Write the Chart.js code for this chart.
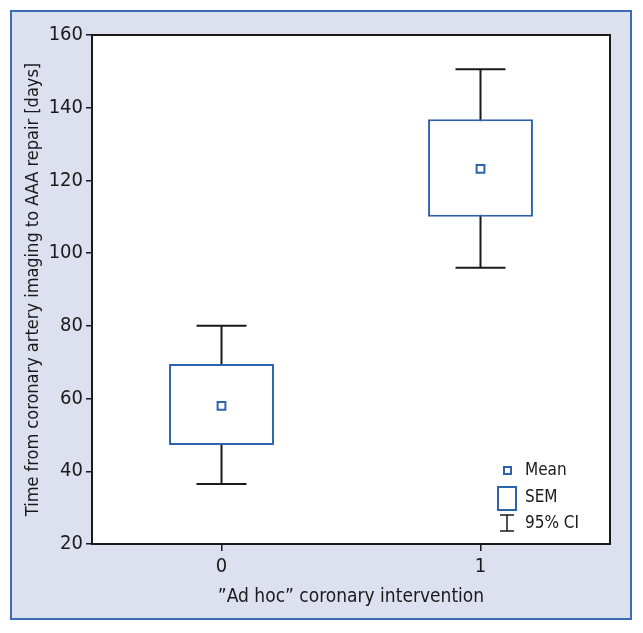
<!DOCTYPE html>
<html>
<head>
<meta charset="utf-8">
<script src="https://cdn.jsdelivr.net/npm/chart.js@4"></script>
<style>
  body { margin: 0; background: #fff; }
  #frame {
    position: absolute; left: 10px; top: 10px;
    width: 618px; height: 606px;
    background: #dde0ef; border: 2px solid #3a6db4;
  }
</style>
</head>
<body>
<div id="frame"><canvas id="my-chart" width="618" height="606"></canvas></div>
<script>
const categories = ["0", "1"];
const means = [58, 123.2];
const semLow = [47.2, 110];
const semHigh = [69.5, 136.8];
const ciLow = [36.5, 96];
const ciHigh = [80, 150.6];
const yTicks = [20, 40, 60, 80, 100, 120, 140, 160];

const blue = "#2b63ad";
const fontFamily = "'DejaVu Sans Condensed', 'Liberation Sans Narrow', sans-serif";

// whiskers (95% CI) drawn under the SEM boxes
const whiskerPlugin = {
  id: "whiskers",
  beforeDatasetsDraw(chart) {
    const { ctx, scales: { x, y } } = chart;
    const capHalf = 25;
    ctx.save();
    ctx.strokeStyle = "#1a1a1a";
    ctx.lineWidth = 2;
    categories.forEach((c, i) => {
      const px = x.getPixelForValue(i);
      const top = y.getPixelForValue(ciHigh[i]);
      const bottom = y.getPixelForValue(ciLow[i]);
      ctx.beginPath();
      ctx.moveTo(px, top);
      ctx.lineTo(px, bottom);
      ctx.moveTo(px - capHalf, top);
      ctx.lineTo(px + capHalf, top);
      ctx.moveTo(px - capHalf, bottom);
      ctx.lineTo(px + capHalf, bottom);
      ctx.stroke();
    });
    ctx.restore();
  },
};

// white plot area, plot frame and legend
const framePlugin = {
  id: "frameLegend",
  beforeDraw(chart) {
    const { ctx, chartArea: a } = chart;
    ctx.save();
    ctx.fillStyle = "#fff";
    ctx.fillRect(a.left, a.top, a.right - a.left, a.bottom - a.top);
    ctx.restore();
  },
  afterDraw(chart) {
    const { ctx, chartArea: a } = chart;
    ctx.save();
    ctx.strokeStyle = "#1a1a1a";
    ctx.lineWidth = 2;
    ctx.strokeRect(a.left, a.top, a.right - a.left, a.bottom - a.top);

    const sx = a.right - 103;
    const tx = a.right - 85;
    ctx.font = "17px " + fontFamily;
    ctx.fillStyle = "#1a1a1a";
    ctx.textBaseline = "middle";
    ctx.fillText("Mean", tx, a.bottom - 73);
    ctx.fillText("SEM", tx, a.bottom - 46);
    ctx.fillText("95% CI", tx, a.bottom - 20);

    ctx.strokeStyle = blue;
    ctx.lineWidth = 2;
    ctx.strokeRect(sx - 3, a.bottom - 77, 7, 7);
    ctx.strokeRect(sx - 9, a.bottom - 57, 18, 23);

    ctx.strokeStyle = "#1a1a1a";
    ctx.lineWidth = 1.5;
    ctx.beginPath();
    ctx.moveTo(sx - 7, a.bottom - 29);
    ctx.lineTo(sx + 7, a.bottom - 29);
    ctx.moveTo(sx, a.bottom - 29);
    ctx.lineTo(sx, a.bottom - 13);
    ctx.moveTo(sx - 7, a.bottom - 13);
    ctx.lineTo(sx + 7, a.bottom - 13);
    ctx.stroke();
    ctx.restore();
  },
};

const chartContainer = document.getElementById("my-chart");

new Chart(chartContainer, {
  data: {
    labels: categories,
    datasets: [
      {
        type: "line",
        label: "Mean",
        data: means,
        showLine: false,
        pointStyle: "rect",
        pointRadius: 5.5,
        pointBorderWidth: 2,
        pointBorderColor: blue,
        pointBackgroundColor: "#fff",
        order: 0,
      },
      {
        type: "bar",
        label: "SEM",
        data: semLow.map((lo, i) => [lo, semHigh[i]]),
        backgroundColor: "#fff",
        borderColor: blue,
        borderWidth: 2,
        borderSkipped: false,
        categoryPercentage: 0.81,
        barPercentage: 0.5,
        order: 1,
      },
    ],
  },
  options: {
    responsive: false,
    animation: false,
    events: [],
    layout: { padding: { top: 23, right: 20, left: 0, bottom: 0 } },
    plugins: { legend: { display: false }, tooltip: { enabled: false } },
    scales: {
      x: {
        offset: true,
        grid: { offset: false, drawOnChartArea: false, tickLength: 7, color: "#1a1a1a", lineWidth: 1.5 },
        border: { display: false },
        ticks: { color: "#1a1a1a", font: { family: fontFamily, size: 20 }, padding: 4 },
        title: {
          display: true,
          text: "\u201dAd hoc\u201d coronary intervention",
          color: "#1a1a1a",
          font: { family: fontFamily, size: 19 },
          padding: { top: 0, bottom: 10 },
        },
        afterFit: (s) => { s.height = 74; },
      },
      y: {
        min: 20,
        max: 160,
        afterBuildTicks: (s) => { s.ticks = yTicks.map((v) => ({ value: v })); },
        grid: { drawOnChartArea: false, tickLength: 6, color: "#1a1a1a", lineWidth: 1.5 },
        border: { display: false },
        ticks: { color: "#1a1a1a", font: { family: fontFamily, size: 20 }, padding: 3 },
        title: {
          display: true,
          text: "Time from coronary artery imaging to AAA repair [days]",
          color: "#1a1a1a",
          font: { family: fontFamily, size: 18 },
          padding: { top: 11, bottom: 0 },
        },
        afterFit: (s) => { s.width = 80; },
      },
    },
  },
  plugins: [whiskerPlugin, framePlugin],
});
</script>
</body>
</html>
